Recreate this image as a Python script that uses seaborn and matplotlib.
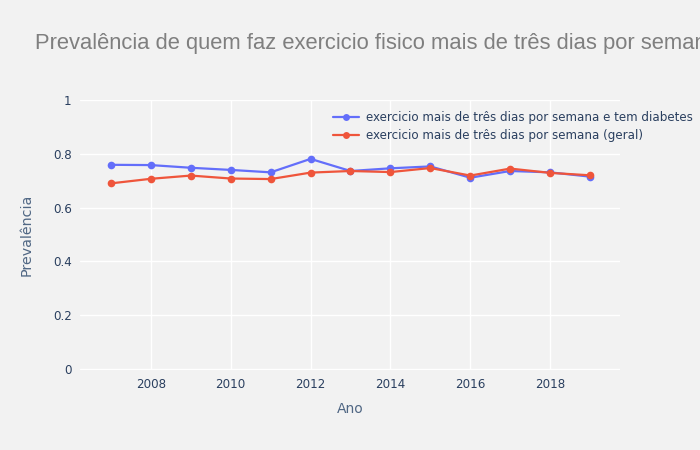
import matplotlib
matplotlib.use("Agg")
import matplotlib.pyplot as plt
import seaborn as sns
import pandas as pd
from matplotlib.lines import Line2D

anos = [2007, 2008, 2009, 2010, 2011, 2012, 2013, 2014, 2015, 2016, 2017, 2018, 2019]
diabetes = [0.759, 0.758, 0.748, 0.740, 0.731, 0.781, 0.736, 0.746, 0.753, 0.711, 0.736, 0.731, 0.715]
geral = [0.690, 0.707, 0.719, 0.708, 0.706, 0.730, 0.736, 0.732, 0.747, 0.719, 0.745, 0.729, 0.720]
serie_nomes = ["exercicio mais de três dias por semana e tem diabetes",
               "exercicio mais de três dias por semana (geral)"]
titulo = "Prevalência de quem faz exercicio fisico mais de três dias por semana"

df = pd.DataFrame({
    "Ano": anos * 2,
    "Prevalência": diabetes + geral,
    "serie": [serie_nomes[0]] * len(anos) + [serie_nomes[1]] * len(anos),
})

sns.set_theme(style="white")
plt.rcParams["font.family"] = ["DejaVu Sans"]

bg = "#f2f2f2"
cores = {serie_nomes[0]: "#636efa", serie_nomes[1]: "#EF553B"}

fig = plt.figure(figsize=(7, 4.5), dpi=100, facecolor=bg)
ax = fig.add_axes([80 / 700, 80 / 450, 540 / 700, 270 / 450])
ax.set_facecolor(bg)

sns.lineplot(data=df, x="Ano", y="Prevalência", hue="serie", palette=cores,
             marker="o", markersize=5.5, markeredgewidth=0, linewidth=1.6,
             ax=ax, legend=False, zorder=3)

ax.set_xlim(2006.225, 2019.75)
ax.set_ylim(-0.004, 1.0)
ax.set_xticks([2008, 2010, 2012, 2014, 2016, 2018])
ax.set_yticks([0, 0.2, 0.4, 0.6, 0.8, 1.0])
ax.set_yticklabels(["0", "0.2", "0.4", "0.6", "0.8", "1"])
ax.grid(True, color="white", linewidth=1)
ax.set_axisbelow(True)
for s in ax.spines.values():
    s.set_visible(False)
tick_color = "#2a3f5f"
ax.tick_params(axis="both", length=0, labelsize=8.6, colors=tick_color, pad=6)
ax.set_xlabel("Ano", fontsize=10, color="#506784", labelpad=8)
ax.set_ylabel("Prevalência", fontsize=10.3, color="#506784", labelpad=14)

handles = [Line2D([0], [0], color=cores[n], marker="o", markersize=5, linewidth=1.6,
                  markeredgewidth=0) for n in serie_nomes]
leg = fig.legend(handles, serie_nomes, loc="upper left",
                 bbox_to_anchor=(328 / 700, 1 - 106 / 450), frameon=False,
                 fontsize=8.6, handlelength=2.2, handletextpad=0.6,
                 labelspacing=0.45, borderaxespad=0)
for t in leg.get_texts():
    t.set_color(tick_color)

fig.text(35 / 700, 1 - 44 / 450, titulo, fontsize=15.8, color="#7f7f7f",
         family=["Liberation Sans", "DejaVu Sans"], va="center", ha="left")

fig.savefig("out.png", dpi=100, facecolor=bg)
